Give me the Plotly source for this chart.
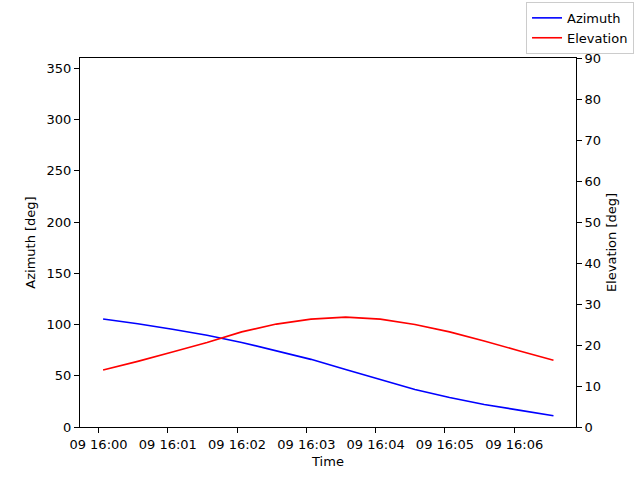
import pandas as pd
import plotly.graph_objects as go

# samples every 30 s starting 16:00:04
times = pd.date_range("2023-01-09 16:00:04", periods=14, freq="30s")
azimuth = [105.3, 100.8, 95.3, 89.5, 82.5, 74.3, 66.0, 56.0, 46.0, 36.5, 28.8, 22.0, 16.5, 11.0]
elevation = [13.9, 16.0, 18.3, 20.6, 23.2, 25.1, 26.3, 26.8, 26.3, 25.0, 23.2, 21.0, 18.6, 16.3]

font = dict(family="DejaVu Sans", size=13, color="black")

fig = go.Figure()
fig.add_trace(go.Scatter(x=times, y=azimuth, mode="lines", name="Azimuth",
                         line=dict(color="blue", width=1.6)))
fig.add_trace(go.Scatter(x=times, y=elevation, mode="lines", name="Elevation",
                         line=dict(color="red", width=1.6), yaxis="y2"))

axis_style = dict(showgrid=False, zeroline=False, showline=True, linecolor="black",
                  linewidth=1, ticks="outside", ticklen=5, tickcolor="black",
                  tickfont=font)

fig.update_layout(
    width=640, height=480,
    margin=dict(l=80, r=64, t=58, b=53, autoexpand=False),
    paper_bgcolor="white", plot_bgcolor="white",
    font=font,
    xaxis=dict(axis_style, mirror=True, tickformat="%d %H:%M", dtick=60000,
               range=["2023-01-09 15:59:44", "2023-01-09 16:06:53.5"],
               title=dict(text="Time", font=font, standoff=6)),
    yaxis=dict(axis_style, range=[0, 360], dtick=50,
               title=dict(text="Azimuth [deg]", font=font, standoff=8)),
    yaxis2=dict(axis_style, overlaying="y", side="right", range=[0, 90], dtick=10,
                title=dict(text="Elevation [deg]", font=font, standoff=6)),
    legend=dict(x=1.117, y=1.152, xanchor="right", yanchor="top",
                bgcolor="white", bordercolor="#cccccc", borderwidth=1,
                font=font, tracegroupgap=0, itemwidth=30),
    showlegend=True,
)

# drop the default page margin so the figure sits at the window corner
fig.write_html("out.html", config={"displayModeBar": False},
               post_script="document.body.style.margin='0';")
